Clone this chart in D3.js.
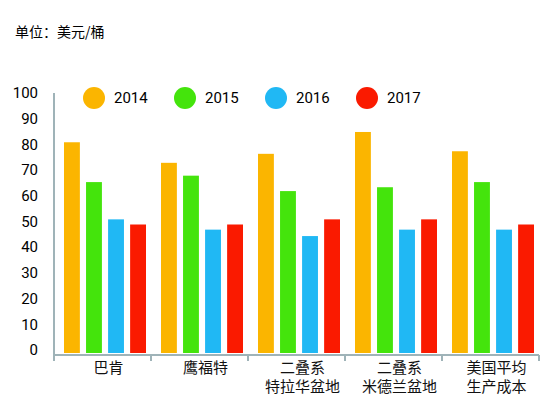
<!DOCTYPE html>
<html><head><meta charset="utf-8">
<script src="https://cdn.jsdelivr.net/npm/d3@7"></script>
<style>body{margin:0;background:#fff}</style>
</head><body><div id="chart"></div>
<script>
const categories = [["巴肯"], ["鹰福特"], ["二叠系", "特拉华盆地"], ["二叠系", "米德兰盆地"], ["美国平均", "生产成本"]];
const years = ["2014", "2015", "2016", "2017"];
const v2014 = [82, 74, 77.5, 86, 78.5];
const v2015 = [66.5, 69, 63, 64.5, 66.5];
const v2016 = [52, 48, 45.5, 48, 48];
const v2017 = [50, 50, 52, 52, 50];
const yTicks = [0, 10, 20, 30, 40, 50, 60, 70, 80, 90, 100];
const colors = ["#fbb500", "#44e40c", "#20b8f4", "#fa1a00"];

const W = 550, H = 419;
const svg = d3.select("#chart").append("svg").attr("width", W).attr("height", H);

svg.append("text").attr("x", 15).attr("y", 37).attr("font-size", 14)
  .attr("font-family", "Noto Sans CJK SC").text("单位：美元/桶");

const y = d3.scaleLinear().domain([0, 100]).range([353, 96]);
const x0 = d3.scaleBand().domain(d3.range(categories.length)).range([54, 539]);
const x1 = d3.scaleBand().domain(years).range([10, 92]).paddingInner(0.28);

const series = [v2014, v2015, v2016, v2017];
years.forEach((yr, si) => {
  svg.append("g").selectAll("rect").data(series[si]).join("rect")
    .attr("x", (d, i) => x0(i) + x1(yr))
    .attr("width", x1.bandwidth())
    .attr("y", d => y(d))
    .attr("height", d => y(0) - y(d))
    .attr("fill", colors[si]);
});

// axes
const axisColor = "#9fb3b8";
svg.append("line").attr("x1", 54).attr("x2", 54).attr("y1", 93).attr("y2", 355)
  .attr("stroke", axisColor).attr("stroke-width", 2);
svg.append("line").attr("x1", 54).attr("x2", 539).attr("y1", 355).attr("y2", 355)
  .attr("stroke", axisColor).attr("stroke-width", 2);
svg.append("g").selectAll("line").data(d3.range(categories.length + 1)).join("line")
  .attr("x1", i => 54 + i * x0.bandwidth()).attr("x2", i => 54 + i * x0.bandwidth())
  .attr("y1", 355).attr("y2", 361).attr("stroke", axisColor).attr("stroke-width", 2);

svg.append("g").selectAll("text").data(yTicks).join("text")
  .attr("x", 38).attr("y", d => y(d) - 3).attr("dy", "0.35em")
  .attr("text-anchor", "end").attr("font-size", 15)
  .attr("font-family", "Roboto").attr("transform-origin", "center")
  .text(d => d);

const lab = svg.append("g").selectAll("text").data(categories).join("text")
  .attr("font-size", 15).attr("font-family", "Noto Sans CJK SC").attr("fill", "#111")
  .attr("text-anchor", "middle");
lab.each(function (lines, i) {
  const t = d3.select(this);
  const cx = x0(i) + x0.bandwidth() / 2 + 6;
  lines.forEach((s, k) => {
    t.append("tspan").attr("x", cx).attr("y", 373 + k * 19).text(s);
  });
});

// legend
const leg = svg.append("g").selectAll("g").data(years).join("g")
  .attr("transform", (d, i) => `translate(${94 + i * 91},98)`);
leg.append("circle").attr("r", 11).attr("fill", (d, i) => colors[i]);
leg.append("text").attr("x", 20).attr("dy", "0.36em").attr("font-size", 15)
  .attr("font-family", "Roboto").text(d => d);
</script></body></html>
